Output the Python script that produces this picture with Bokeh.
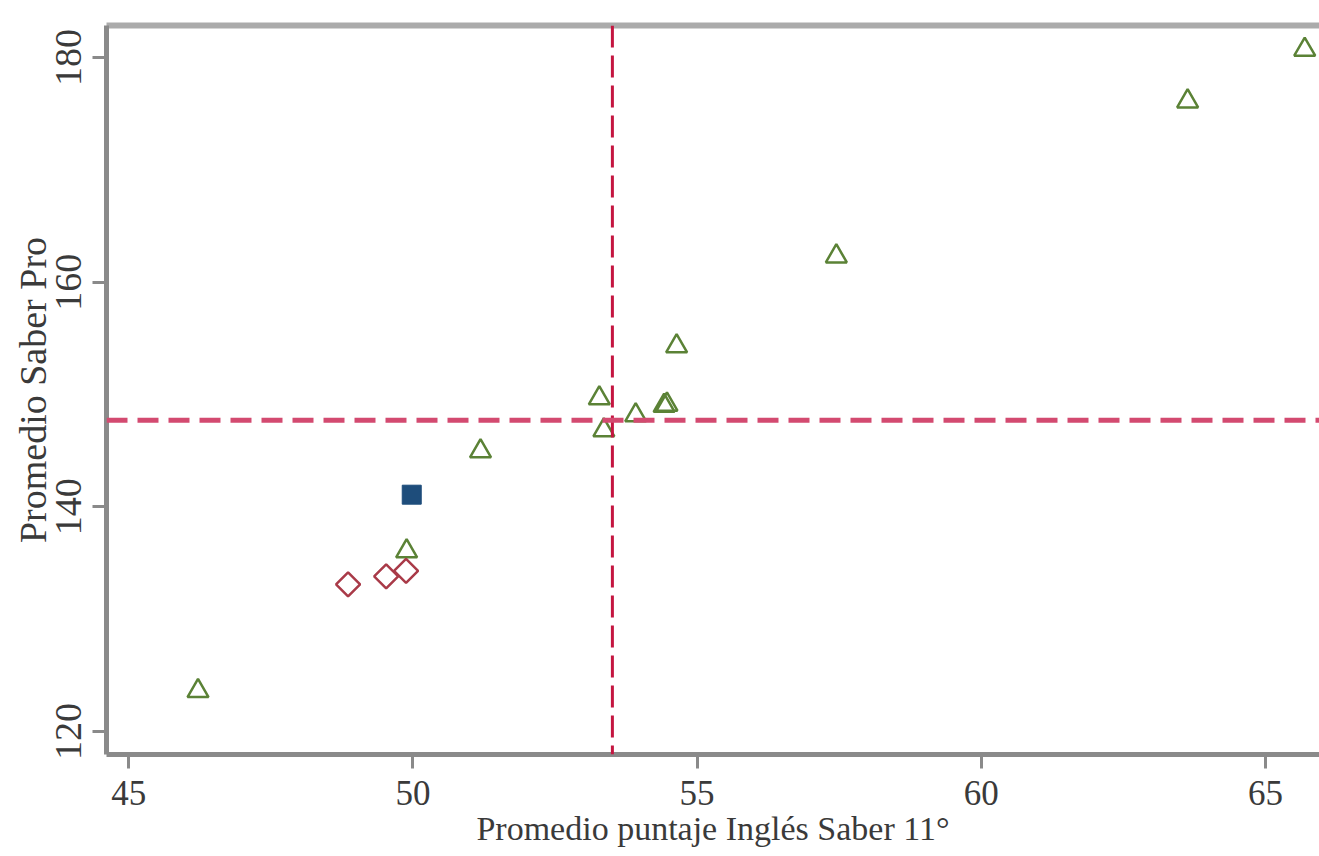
from bokeh.plotting import figure
from bokeh.models import Span, LinearAxis, FixedTicker, Range1d
from bokeh.embed import file_html
from bokeh.resources import INLINE

# --- data ---
tri_x = [46.22, 49.89, 51.19, 53.28, 53.36, 53.92, 54.42, 54.47, 54.64, 57.45, 63.63, 65.69]
tri_y = [123.6, 136.05, 144.95, 149.66, 146.82, 148.15, 149.0, 149.1, 154.3, 162.3, 176.1, 180.7]
dia_x = [48.86, 49.53, 49.88]
dia_y = [133.1, 133.8, 134.3]
sq_x = [49.98]
sq_y = [141.08]
mean_x = 53.51
mean_y = 147.70
x_ticks = [45, 50, 55, 60, 65]
y_ticks = [120, 140, 160, 180]
x_title = "Promedio puntaje Inglés Saber 11°"
y_title = "Promedio Saber Pro"

FONT = "Liberation Serif"
TXT = "#3a3a3a"
AX = "#8a8a8a"

p = figure(width=1319, height=856, output_backend="svg", toolbar_location=None,
           x_range=Range1d(44.61, 65.95), y_range=Range1d(117.95, 182.85),
           min_border_left=106, min_border_right=0, min_border_top=25, min_border_bottom=102)
p.outline_line_color = None
p.xgrid.visible = False
p.ygrid.visible = False
p.background_fill_color = "white"
p.border_fill_color = "white"

# axes
for ax in (p.xaxis[0], p.yaxis[0]):
    ax.axis_line_color = AX
    ax.axis_line_width = 5
    ax.major_tick_line_color = AX
    ax.major_tick_line_width = 3
    ax.major_tick_out = 14
    ax.major_tick_in = 0
    ax.minor_tick_line_color = None
    ax.major_label_text_font = FONT
    ax.major_label_text_color = TXT
    ax.axis_label_text_font = FONT
    ax.axis_label_text_color = TXT
    ax.axis_label_text_font_style = "normal"

p.xaxis.ticker = FixedTicker(ticks=x_ticks)
p.yaxis.ticker = FixedTicker(ticks=y_ticks)
p.xaxis.major_label_text_font_size = "35px"
p.yaxis.major_label_text_font_size = "38px"
p.xaxis.axis_label = x_title
p.yaxis.axis_label = y_title
p.xaxis.axis_label_text_font_size = "34px"
p.yaxis.axis_label_text_font_size = "38px"
p.yaxis.major_label_orientation = "vertical"
p.xaxis.major_label_standoff = 12
p.yaxis.major_label_standoff = 11
p.xaxis.axis_label_standoff = 2
p.yaxis.axis_label_standoff = 0

top = LinearAxis(axis_line_color="#ababab", axis_line_width=6,
                 major_tick_line_color=None, minor_tick_line_color=None,
                 major_label_text_font_size="0px", ticker=FixedTicker(ticks=[]))
p.add_layout(top, "above")

# reference lines
p.add_layout(Span(location=mean_x, dimension="height", line_color="#c41540",
                  line_width=3, line_dash="22 8"))
p.add_layout(Span(location=mean_y, dimension="width", line_color="#d34a70",
                  line_width=5, line_dash="21 10"))

# markers
p.scatter(tri_x, tri_y, marker="triangle", size=21, fill_color=None,
          line_color="#5b8236", line_width=2.5)
p.scatter(dia_x, dia_y, marker="square", angle=0.7854, size=17, fill_color=None,
          line_color="#a93a48", line_width=2.5)
p.scatter(sq_x, sq_y, marker="square", size=19, fill_color="#1e4d7b",
          line_color="#1e4d7b", line_width=1)

open("out.html", "w").write(file_html(p, INLINE))
